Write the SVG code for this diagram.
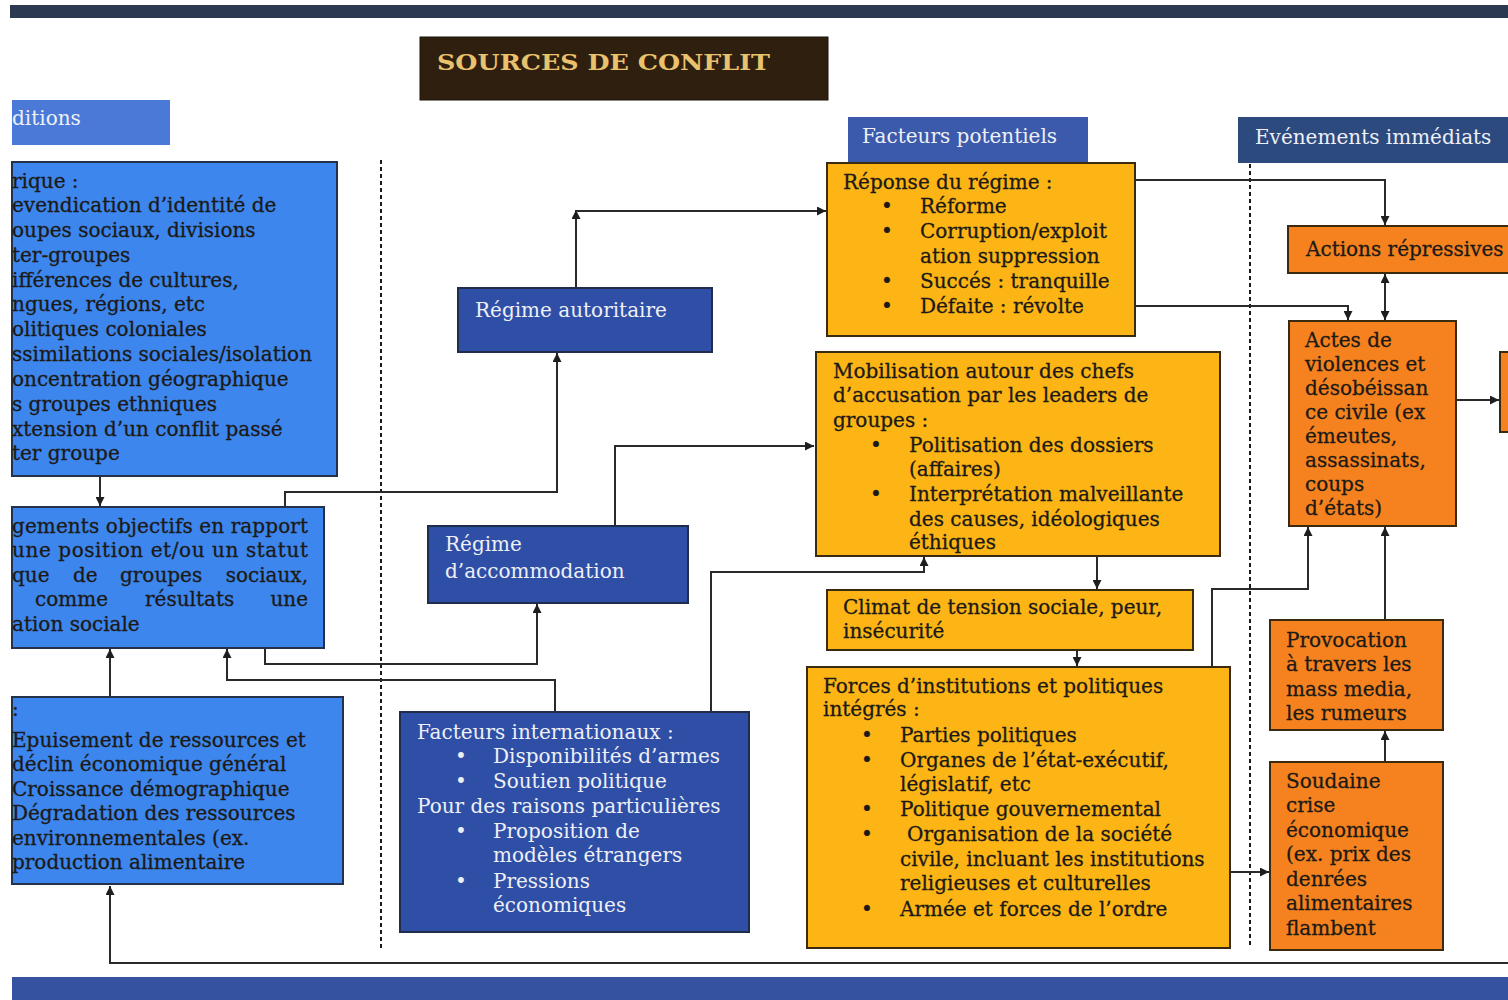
<svg xmlns="http://www.w3.org/2000/svg" width="1508" height="1000" viewBox="0 0 1508 1000">
<style>
.t{font-family:"DejaVu Serif","Liberation Serif",serif;font-size:20px;fill:#1c1a16;stroke:#1c1a16;stroke-width:0.3}
.w{font-family:"DejaVu Serif","Liberation Serif",serif;font-size:20px;fill:#eef0f6}
.blue{fill:#3c86ee;stroke:#23324a;stroke-width:2}
.navy{fill:#2f4fa6;stroke:#1f2c4a;stroke-width:2}
.gold{fill:#fdb515;stroke:#3a2a10;stroke-width:2}
.orng{fill:#f6821f;stroke:#3a2a10;stroke-width:2}
.c{fill:none;stroke:#2a2a2a;stroke-width:2}
.dot{fill:none;stroke:#1a1a1a;stroke-width:2;stroke-dasharray:4 3}
</style>
<defs>
<marker id="ah" markerWidth="9" markerHeight="9" refX="9" refY="4.5" orient="auto" markerUnits="userSpaceOnUse">
<path d="M0,0 L9,4.5 L0,9 z" fill="#1e1e1e"/>
</marker>
<marker id="as" markerWidth="9" markerHeight="9" refX="0" refY="4.5" orient="auto" markerUnits="userSpaceOnUse">
<path d="M9,0 L0,4.5 L9,9 z" fill="#1e1e1e"/>
</marker>
</defs>
<rect x="0" y="0" width="1508" height="1000" fill="#ffffff"/>
<rect x="10" y="5" width="1498" height="13" fill="#2b3a50"/>
<rect x="12" y="977" width="1496" height="23" fill="#3452a0"/>

<g id="dividers">
<line class="dot" x1="381" y1="160" x2="381" y2="948"/>
<line class="dot" x1="1250" y1="150" x2="1250" y2="948"/>
</g>

<g id="connectors">
<path class="c" d="M100,476 V506" marker-end="url(#ah)"/>
<path class="c" d="M110,697 V649" marker-end="url(#ah)"/>
<path class="c" d="M1508,963 H110 V886" marker-end="url(#ah)"/>
<path class="c" d="M555,712 V680 H227 V649" marker-end="url(#ah)"/>
<path class="c" d="M265,648 V664 H537 V604" marker-end="url(#ah)"/>
<path class="c" d="M285,507 V492 H557 V353" marker-end="url(#ah)"/>
<path class="c" d="M576,288 V210" marker-end="url(#ah)"/>
<path class="c" d="M576,211 H826" marker-end="url(#ah)"/>
<path class="c" d="M615,526 V446 H814" marker-end="url(#ah)"/>
<path class="c" d="M711,712 V572 H924 V557" marker-end="url(#ah)"/>
<path class="c" d="M1097,556 V589" marker-end="url(#ah)"/>
<path class="c" d="M1077,650 V666" marker-end="url(#ah)"/>
<path class="c" d="M1230,872 H1269" marker-end="url(#ah)"/>
<path class="c" d="M1212,667 V589 H1308 V527" marker-end="url(#ah)"/>
<path class="c" d="M1135,180 H1385 V225" marker-end="url(#ah)"/>
<path class="c" d="M1135,306 H1348 V320" marker-end="url(#ah)"/>
<path class="c" d="M1385,274 V320" marker-start="url(#as)" marker-end="url(#ah)"/>
<path class="c" d="M1385,620 V527" marker-end="url(#ah)"/>
<path class="c" d="M1385,762 V731" marker-end="url(#ah)"/>
<path class="c" d="M1456,400 H1499" marker-end="url(#ah)"/>
</g>

<g id="title">
<rect x="420" y="37" width="408" height="63" fill="#2f1f0e" stroke="#1a1208" stroke-width="1"/>
<text x="437" y="70" font-family="'DejaVu Serif','Liberation Serif',serif" font-size="23" font-weight="bold" fill="#e9c26e" textLength="333" lengthAdjust="spacingAndGlyphs">SOURCES DE CONFLIT</text>
</g>

<g id="hdr-conditions">
<rect x="12" y="100" width="158" height="45" fill="#4a79d8"/>
<text class="w" x="12" y="125">ditions</text>
</g>

<g id="hdr-potentiels">
<rect x="848" y="117" width="240" height="45" fill="#3b5aab"/>
<text class="w" x="862" y="143">Facteurs potentiels</text>
</g>

<g id="hdr-immediats">
<rect x="1238" y="117" width="270" height="46" fill="#2d4a7f"/>
<text class="w" x="1255" y="144">Evénements immédiats</text>
</g>

<g id="box-identite">
<rect class="blue" x="12" y="162" width="325" height="314"/>
<text class="t" x="12" y="188">rique :</text>
<text class="t" x="12" y="212">evendication d’identité de</text>
<text class="t" x="12" y="237">oupes sociaux, divisions</text>
<text class="t" x="12" y="262">ter-groupes</text>
<text class="t" x="12" y="287">ifférences de cultures,</text>
<text class="t" x="12" y="311">ngues, régions, etc</text>
<text class="t" x="12" y="336">olitiques coloniales</text>
<text class="t" x="12" y="361">ssimilations sociales/isolation</text>
<text class="t" x="12" y="386">oncentration géographique</text>
<text class="t" x="12" y="411">s groupes ethniques</text>
<text class="t" x="12" y="436">xtension d’un conflit passé</text>
<text class="t" x="12" y="460">ter groupe</text>
</g>

<g id="box-changements">
<rect class="blue" x="12" y="507" width="312" height="141"/>
<text class="t" x="12" y="533" textLength="296" lengthAdjust="spacing">gements objectifs en rapport</text>
<text class="t" x="12" y="557" textLength="296" lengthAdjust="spacing">une position et/ou un statut</text>
<text class="t" y="582"><tspan x="12">que</tspan><tspan x="73">de</tspan><tspan x="120">groupes</tspan></text>
<text class="t" x="308" y="582" text-anchor="end">sociaux,</text>
<text class="t" y="606"><tspan x="35">comme</tspan><tspan x="145">résultats</tspan></text>
<text class="t" x="308" y="606" text-anchor="end">une</text>
<text class="t" x="12" y="631">ation sociale</text>
</g>

<g id="box-ressources">
<rect class="blue" x="12" y="697" width="331" height="187"/>
<text class="t" x="12" y="716">:</text>
<text class="t" x="12" y="747">Epuisement de ressources et</text>
<text class="t" x="12" y="771">déclin économique général</text>
<text class="t" x="12" y="796">Croissance démographique</text>
<text class="t" x="12" y="820">Dégradation des ressources</text>
<text class="t" x="12" y="845">environnementales (ex.</text>
<text class="t" x="12" y="869">production alimentaire</text>
</g>

<g id="box-autoritaire">
<rect class="navy" x="458" y="288" width="254" height="64"/>
<text class="w" x="475" y="317">Régime autoritaire</text>
</g>

<g id="box-accommodation">
<rect class="navy" x="428" y="526" width="260" height="77"/>
<text class="w" x="445" y="551">Régime</text>
<text class="w" x="445" y="578">d’accommodation</text>
</g>

<g id="box-internationaux">
<rect class="navy" x="400" y="712" width="349" height="220"/>
<text class="w" x="417" y="739">Facteurs internationaux :</text>
<text class="w" x="455" y="763">•</text><text class="w" x="493" y="763">Disponibilités d’armes</text>
<text class="w" x="455" y="788">•</text><text class="w" x="493" y="788">Soutien politique</text>
<text class="w" x="417" y="813">Pour des raisons particulières</text>
<text class="w" x="455" y="838">•</text><text class="w" x="493" y="838">Proposition de</text>
<text class="w" x="493" y="862">modèles étrangers</text>
<text class="w" x="455" y="888">•</text><text class="w" x="493" y="888">Pressions</text>
<text class="w" x="493" y="912">économiques</text>
</g>

<g id="box-reponse">
<rect class="gold" x="827" y="163" width="308" height="173"/>
<text class="t" x="843" y="189">Réponse du régime :</text>
<text class="t" x="881" y="213">•</text><text class="t" x="920" y="213">Réforme</text>
<text class="t" x="881" y="238">•</text><text class="t" x="920" y="238">Corruption/exploit</text>
<text class="t" x="920" y="263">ation suppression</text>
<text class="t" x="881" y="288">•</text><text class="t" x="920" y="288">Succés : tranquille</text>
<text class="t" x="881" y="313">•</text><text class="t" x="920" y="313">Défaite : révolte</text>
</g>

<g id="box-mobilisation">
<rect class="gold" x="816" y="352" width="404" height="204"/>
<text class="t" x="833" y="378">Mobilisation autour des chefs</text>
<text class="t" x="833" y="402">d’accusation par les leaders de</text>
<text class="t" x="833" y="427">groupes :</text>
<text class="t" x="870" y="452">•</text><text class="t" x="909" y="452">Politisation des dossiers</text>
<text class="t" x="909" y="476">(affaires)</text>
<text class="t" x="870" y="501">•</text><text class="t" x="909" y="501">Interprétation malveillante</text>
<text class="t" x="909" y="526">des causes, idéologiques</text>
<text class="t" x="909" y="549">éthiques</text>
</g>

<g id="box-climat">
<rect class="gold" x="827" y="590" width="366" height="60"/>
<text class="t" x="843" y="614">Climat de tension sociale, peur,</text>
<text class="t" x="843" y="638">insécurité</text>
</g>

<g id="box-forces">
<rect class="gold" x="807" y="667" width="423" height="281"/>
<text class="t" x="823" y="693">Forces d’institutions et politiques</text>
<text class="t" x="823" y="716">intégrés :</text>
<text class="t" x="861" y="742">•</text><text class="t" x="900" y="742">Parties politiques</text>
<text class="t" x="861" y="767">•</text><text class="t" x="900" y="767">Organes de l’état-exécutif,</text>
<text class="t" x="900" y="791">législatif, etc</text>
<text class="t" x="861" y="816">•</text><text class="t" x="900" y="816">Politique gouvernemental</text>
<text class="t" x="861" y="841">•</text><text class="t" x="907" y="841">Organisation de la société</text>
<text class="t" x="900" y="866">civile, incluant les institutions</text>
<text class="t" x="900" y="890">religieuses et culturelles</text>
<text class="t" x="861" y="916">•</text><text class="t" x="900" y="916">Armée et forces de l’ordre</text>
</g>

<g id="box-repressives">
<rect class="orng" x="1288" y="226" width="222" height="47"/>
<text class="t" x="1306" y="256">Actions répressives</text>
</g>

<g id="box-actes">
<rect class="orng" x="1289" y="321" width="167" height="205"/>
<text class="t" x="1305" y="347">Actes de</text>
<text class="t" x="1305" y="371">violences et</text>
<text class="t" x="1305" y="395">désobéissan</text>
<text class="t" x="1305" y="419">ce civile (ex</text>
<text class="t" x="1305" y="443">émeutes,</text>
<text class="t" x="1305" y="467">assassinats,</text>
<text class="t" x="1305" y="491">coups</text>
<text class="t" x="1305" y="515">d’états)</text>
</g>

<g id="box-right-edge">
<rect class="orng" x="1500" y="352" width="12" height="80"/>
</g>

<g id="box-provocation">
<rect class="orng" x="1270" y="620" width="173" height="110"/>
<text class="t" x="1286" y="647">Provocation</text>
<text class="t" x="1286" y="671">à travers les</text>
<text class="t" x="1286" y="696">mass media,</text>
<text class="t" x="1286" y="720">les rumeurs</text>
</g>

<g id="box-soudaine">
<rect class="orng" x="1270" y="762" width="173" height="188"/>
<text class="t" x="1286" y="788">Soudaine</text>
<text class="t" x="1286" y="812">crise</text>
<text class="t" x="1286" y="837">économique</text>
<text class="t" x="1286" y="861">(ex. prix des</text>
<text class="t" x="1286" y="886">denrées</text>
<text class="t" x="1286" y="910">alimentaires</text>
<text class="t" x="1286" y="935">flambent</text>
</g>
</svg>
